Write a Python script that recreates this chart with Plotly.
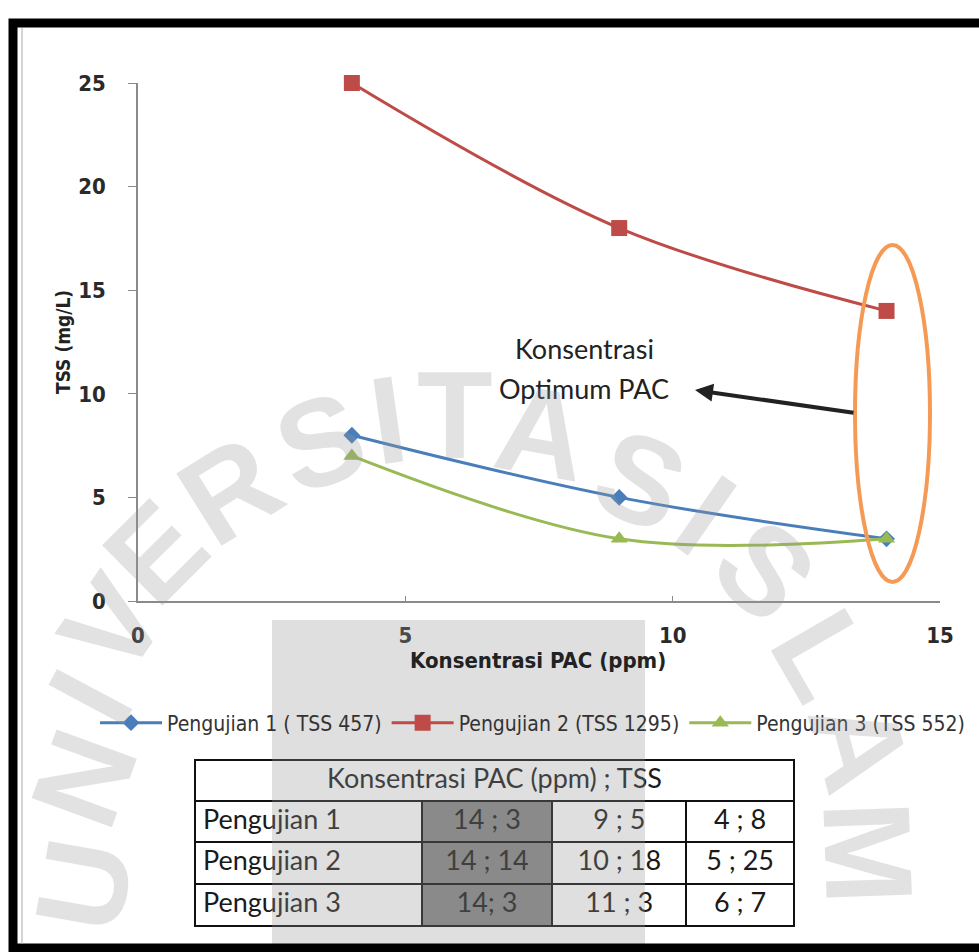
import plotly.graph_objects as go

W, H = 979, 952

# ---------------- data ----------------
x_ppm = [4, 9, 14]
tss_p1 = [8, 5, 3]
tss_p2 = [25, 18, 14]
tss_p3 = [7, 3, 3]
series_names = ["Pengujian 1 ( TSS 457)", "Pengujian 2 (TSS 1295)", "Pengujian 3 (TSS 552)"]
x_ticks = [0, 5, 10, 15]
y_ticks = [0, 5, 10, 15, 20, 25]

table_title = "Konsentrasi PAC (ppm) ; TSS"
table_rows = ["Pengujian 1", "Pengujian 2", "Pengujian 3"]
table_col1 = ["14 ; 3", "14 ; 14", "14; 3"]
table_col2 = ["9 ; 5", "10 ; 18", "11 ; 3"]
table_col3 = ["4 ; 8", "5 ; 25", "6 ; 7"]

note_lines = ["Konsentrasi", "Optimum PAC"]
x_title = "Konsentrasi PAC (ppm)"
y_title = "TSS (mg/L)"
watermark = "UNIVERSITAS ISLAM"

# ---------------- helpers (pixel -> paper) ----------------
def fx(X):
    return X / W

def fy(Y):
    return 1 - Y / H

AXIS_FONT = "Liberation Sans Narrow, DejaVu Sans Condensed, sans-serif"
TEXT_FONT = "Lato, Open Sans, sans-serif"

colors = ["#4A7EBB", "#BE4B48", "#98B954"]
symbols = ["diamond", "square", "triangle-up"]
msizes = [13, 16, 15]

fig = go.Figure()
for name, ys, c, s, ms in zip(series_names, [tss_p1, tss_p2, tss_p3], colors, symbols, msizes):
    fig.add_trace(go.Scatter(
        x=x_ppm, y=ys, name=name, mode="lines+markers", cliponaxis=False,
        line=dict(color=c, width=3, shape="spline", smoothing=1.0),
        marker=dict(symbol=s, size=ms, color=c),
    ))

cell_font = dict(family=TEXT_FONT, size=27, color="#1a1a1a")
# table header (merged title row)
fig.add_trace(go.Table(
    domain=dict(x=[fx(195), fx(795)], y=[fy(801), fy(760)]),
    header=dict(values=[table_title], fill_color="white", align="center",
                line=dict(color="#111", width=2), font=cell_font, height=41),
    cells=dict(values=[[]], height=0),
))
# table body
fig.add_trace(go.Table(
    domain=dict(x=[fx(195), fx(795)], y=[fy(940), fy(801)]),
    columnwidth=[227, 131, 134, 108],
    header=dict(values=[table_rows[0], table_col1[0], table_col2[0], table_col3[0]],
                fill_color=["white", "#868686", "white", "white"],
                align=["left", "center", "center", "center"],
                line=dict(color="#111", width=2), font=cell_font, height=41),
    cells=dict(values=[table_rows[1:], table_col1[1:], table_col2[1:], table_col3[1:]],
               fill_color=[["white"] * 2, ["#868686"] * 2, ["white"] * 2, ["white"] * 2],
               align=["left", "center", "center", "center"],
               line=dict(color="#111", width=2), font=cell_font, height=42),
))

tickfont = dict(family=AXIS_FONT, size=22, color="#2a2a2a", weight="bold")
fig.update_layout(
    width=W, height=H,
    margin=dict(l=0, r=0, t=0, b=0),
    paper_bgcolor="white", plot_bgcolor="white",
    showlegend=True,
    legend=dict(orientation="h", x=fx(95), y=fy(723), xanchor="left", yanchor="middle",
                font=dict(family=AXIS_FONT, size=21, color="#333"), itemwidth=62,
                bgcolor="rgba(0,0,0,0)"),
    xaxis=dict(domain=[fx(138), fx(940)], range=[0, 15], tickvals=x_ticks,
               showline=True, linecolor="#8a8a8a", linewidth=1.5,
               ticks="inside", ticklen=5, tickcolor="#8a8a8a",
               showgrid=False, zeroline=False, tickfont=tickfont,
               ticklabelstandoff=14, automargin=False),
    yaxis=dict(domain=[fy(601), fy(83)], range=[0, 25], tickvals=y_ticks,
               showline=True, linecolor="#8a8a8a", linewidth=1.5,
               ticks="outside", ticklen=8, tickcolor="#8a8a8a",
               showgrid=False, zeroline=False, tickfont=tickfont,
               ticklabelstandoff=18, automargin=False),
)

ann = []
# axis titles
ann.append(dict(x=fx(538), y=fy(675), xref="paper", yref="paper", text=x_title,
                showarrow=False, font=dict(family=AXIS_FONT, size=22, color="#222", weight="bold")))
ann.append(dict(x=fx(50), y=fy(342), xref="paper", yref="paper", text=y_title, textangle=-90,
                showarrow=False, font=dict(family=AXIS_FONT, size=19, color="#222", weight="bold")))
# note text
ann.append(dict(x=fx(584), y=fy(348), xref="paper", yref="paper", text=note_lines[0],
                showarrow=False, font=dict(family=TEXT_FONT, size=27, color="#222")))
ann.append(dict(x=fx(584), y=fy(388), xref="paper", yref="paper", text=note_lines[1],
                showarrow=False, font=dict(family=TEXT_FONT, size=27, color="#222")))
# arrow
ann.append(dict(x=fx(695), y=fy(390), xref="paper", yref="paper", text="",
                showarrow=True, ax=160, ay=23, arrowhead=2, arrowsize=0.9,
                arrowwidth=4, arrowcolor="#222"))

# watermark letters along an arc
wm_pos = [(84, 885, -80), (84, 778, -70), (90, 697, -62), (112, 625, -55), (155, 552, -45),
          (230, 490, -32), (320, 442, -20), (388, 420, -8), (455, 415, 0), (542, 432, 10),
          (640, 480, 22), None, (705, 515, 35), (765, 570, 45), (823, 655, 60),
          (860, 745, 75), (868, 852, 88)]
for ch, p in zip(watermark, wm_pos):
    if p is None or ch == " ":
        continue
    X, Y, a = p
    ann.append(dict(x=fx(X), y=fy(Y), xref="paper", yref="paper", text=ch, textangle=a,
                    showarrow=False, xanchor="center", yanchor="middle",
                    font=dict(family="Liberation Sans, Arial, sans-serif", size=124,
                              color="rgba(150,150,150,0.28)", weight="bold")))
fig.update_layout(annotations=ann)

shapes = []
# grey watermark rectangle
shapes.append(dict(type="rect", xref="paper", yref="paper", x0=fx(272), x1=fx(645),
                   y0=fy(946), y1=fy(620), fillcolor="rgba(150,150,150,0.3)",
                   line=dict(width=0), layer="above"))
# orange ellipse
shapes.append(dict(type="circle", xref="paper", yref="paper", x0=fx(855), x1=fx(930),
                   y0=fy(582), y1=fy(245), line=dict(color="#F59A55", width=4), layer="above"))
# page border
shapes.append(dict(type="rect", xref="paper", yref="paper", x0=fx(13), x1=fx(1000),
                   y0=fy(948), y1=fy(23), line=dict(color="black", width=9), layer="above"))
shapes.append(dict(type="line", xref="paper", yref="paper", x0=fx(22), x1=fx(22),
                   y0=fy(944), y1=fy(28), line=dict(color="#aaaaaa", width=1), layer="above"))
fig.update_layout(shapes=shapes)

fig.write_html("out.html")
